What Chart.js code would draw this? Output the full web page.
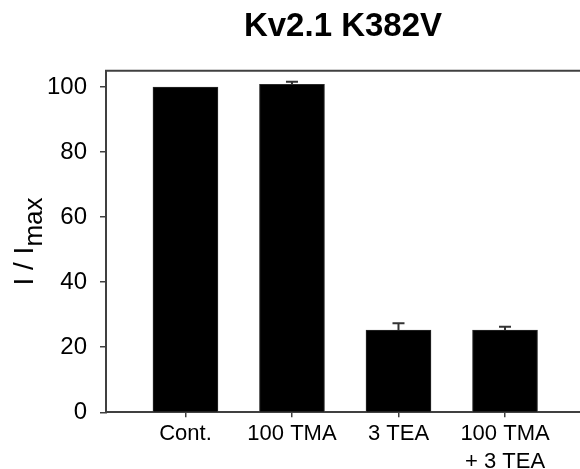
<!DOCTYPE html>
<html>
<head>
<meta charset="utf-8">
<script src="https://cdn.jsdelivr.net/npm/chart.js@4"></script>
<style>
  html, body { margin: 0; padding: 0; background: #fff; }
  #wrap { width: 580px; height: 469px; }
</style>
</head>
<body>
<div id="wrap"><canvas id="c" width="580" height="469"></canvas></div>
<script>
const titleText = 'Kv2.1 K382V';
const yLabelMain = 'I / I';
const yLabelSub = 'max';
const categories = ['Cont.', '100 TMA', '3 TEA', ['100 TMA', '+ 3 TEA']];
const values = [100, 100.8, 25.3, 25.3];
const errors = [0, 0.8, 2.1, 1.0];
const yTicks = [0, 20, 40, 60, 80, 100];

const FONT = "'Liberation Sans', Arial, Helvetica, sans-serif";
const AXIS_COLOR = '#404040';

const extrasPlugin = {
  id: 'extras',
  afterDatasetsDraw(chart) {
    const ctx = chart.ctx;
    const xs = chart.scales.x, ys = chart.scales.y;
    ctx.save();
    ctx.strokeStyle = '#333';
    ctx.lineWidth = 2;
    values.forEach((v, i) => {
      const e = errors[i];
      if (!e) return;
      const px = xs.getPixelForValue(i);
      const y0 = ys.getPixelForValue(v);
      const y1 = ys.getPixelForValue(v + e);
      ctx.beginPath();
      ctx.moveTo(px, y0);
      ctx.lineTo(px, y1);
      ctx.moveTo(px - 6, y1);
      ctx.lineTo(px + 6, y1);
      ctx.stroke();
    });
    ctx.restore();
  },
  afterDraw(chart) {
    const ctx = chart.ctx;
    const a = chart.chartArea;
    ctx.save();
    ctx.strokeStyle = AXIS_COLOR;
    ctx.lineWidth = 2;
    ctx.beginPath();
    ctx.moveTo(a.left - 1, a.top);
    ctx.lineTo(a.right, a.top);
    ctx.stroke();
    const cy = (a.top + a.bottom) / 2;
    ctx.fillStyle = '#000';
    ctx.textBaseline = 'alphabetic';
    ctx.font = '28px ' + FONT;
    const w1 = ctx.measureText(yLabelMain).width;
    ctx.font = '26px ' + FONT;
    const w2 = ctx.measureText(yLabelSub).width;
    const total = w1 + w2;
    ctx.translate(33, cy);
    ctx.rotate(-Math.PI / 2);
    ctx.font = '28px ' + FONT;
    ctx.fillText(yLabelMain, -total / 2, 0);
    ctx.font = '26px ' + FONT;
    ctx.fillText(yLabelSub, -total / 2 + w1, 9);
    ctx.restore();
  }
};

new Chart(document.getElementById('c'), {
  type: 'bar',
  data: {
    datasets: [{
      data: values.map((v, i) => ({ x: i, y: v })),
      backgroundColor: '#000',
      borderColor: '#2a2a2a',
      borderWidth: 1,
      barThickness: 65
    }]
  },
  options: {
    responsive: false,
    devicePixelRatio: 1,
    animation: false,
    layout: { padding: 0 },
    plugins: {
      legend: { display: false },
      tooltip: { enabled: false },
      title: {
        display: true,
        text: titleText,
        fullSize: false,
        color: '#000',
        font: { family: FONT, size: 33, weight: 'bold', lineHeight: 1.2 },
        padding: { top: 7, bottom: 24.1 }
      }
    },
    scales: {
      x: {
        type: 'linear',
        offset: false,
        min: -0.746,
        max: 3.704,
        afterBuildTicks(scale) { scale.ticks = categories.map((c, i) => ({ value: i })); },
        afterFit(scale) { scale.height = 469 - 412.3; },
        grid: { display: true, offset: false, drawOnChartArea: false, drawTicks: true, tickLength: 5, color: AXIS_COLOR, lineWidth: 1.5 },
        border: { display: true, color: AXIS_COLOR, width: 2 },
        ticks: {
          autoSkip: false,
          maxRotation: 0,
          padding: 2,
          color: '#000',
          font: { family: FONT, size: 22, lineHeight: 1.3 },
          callback(v) { return categories[Math.round(v)]; }
        }
      },
      y: {
        min: 0,
        max: 105,
        afterBuildTicks(scale) { scale.ticks = yTicks.map(v => ({ value: v })); },
        afterFit(scale) { scale.width = 106; },
        grid: { display: true, drawOnChartArea: false, drawTicks: true, tickLength: 6, color: AXIS_COLOR, lineWidth: 1.5 },
        border: { display: true, color: AXIS_COLOR, width: 2 },
        ticks: {
          padding: 13,
          color: '#000',
          font: { family: FONT, size: 24 }
        }
      }
    }
  },
  plugins: [extrasPlugin]
});
</script>
</body>
</html>
